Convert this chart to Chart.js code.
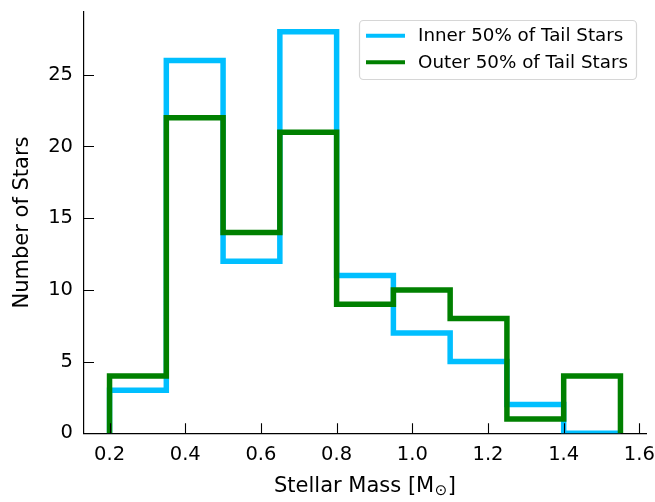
<!DOCTYPE html>
<html>
<head>
<meta charset="utf-8">
<script src="https://cdn.jsdelivr.net/npm/chart.js@4/dist/chart.umd.min.js"></script>
<style>
  html, body { margin: 0; padding: 0; background: #fff; }
  #wrap { width: 655px; height: 502px; }
</style>
</head>
<body>
<div id="wrap"><canvas id="hist" width="655" height="502"></canvas></div>
<script>
// ---- data -----------------------------------------------------------
const binEdges = [0.2, 0.35, 0.5, 0.65, 0.8, 0.95, 1.1, 1.25, 1.4, 1.55];
const innerCounts = [3, 26, 12, 28, 11, 7, 5, 2, 0];
const outerCounts = [4, 22, 14, 21, 9, 10, 8, 1, 4];
const xTicks = [0.2, 0.4, 0.6, 0.8, 1.0, 1.2, 1.4, 1.6];
const yTicks = [0, 5, 10, 15, 20, 25];
const seriesLabels = ["Inner 50% of Tail Stars", "Outer 50% of Tail Stars"];
const seriesColors = ["#00bfff", "#008000"];

const FONT = '"DejaVu Sans", sans-serif';
const TICK_FS = 19.5;  // tick labels
const LEGEND_FS = 18.3;
const TITLE_FS = 21;   // axis titles

// outline of a step histogram: up at the first edge, across each bin, down at the last edge
function stepOutline(counts) {
  const pts = [{ x: binEdges[0], y: 0 }];
  counts.forEach((c, i) => {
    pts.push({ x: binEdges[i], y: c });
    pts.push({ x: binEdges[i + 1], y: c });
  });
  pts.push({ x: binEdges[binEdges.length - 1], y: 0 });
  return pts;
}

// ---- inward ticks, axis titles and framed legend ---------------------
const decor = {
  id: "decor",
  afterDraw(chart) {
    const { ctx, chartArea: a, scales } = chart;
    ctx.save();
    ctx.strokeStyle = "#000";
    ctx.lineWidth = 1.1;
    ctx.beginPath();
    xTicks.forEach((v) => {
      const px = Math.round(scales.x.getPixelForValue(v)) + 0.5;
      ctx.moveTo(px, a.bottom);
      ctx.lineTo(px, a.bottom - 10);
    });
    yTicks.forEach((v) => {
      const py = Math.round(scales.y.getPixelForValue(v)) + 0.5;
      ctx.moveTo(a.left, py);
      ctx.lineTo(a.left + 10, py);
    });
    ctx.stroke();

    // x title with a subscript solar symbol
    ctx.fillStyle = "#000";
    ctx.textBaseline = "alphabetic";
    const big = TITLE_FS + "px " + FONT, small = Math.round(TITLE_FS * 0.7) + "px " + FONT;
    ctx.font = big;
    const partA = "Stellar Mass [M", partC = "]";
    const wA = ctx.measureText(partA).width;
    const wC = ctx.measureText(partC).width;
    ctx.font = small;
    const wB = ctx.measureText("\u2299").width;
    const total = wA + wB + wC + 1;
    const x0 = (a.left + a.right) / 2 - total / 2;
    const base = 492;
    ctx.font = big;
    ctx.textAlign = "left";
    ctx.fillText(partA, x0, base);
    ctx.font = small;
    ctx.fillText("\u2299", x0 + wA + 0.5, base + 3);
    ctx.font = big;
    ctx.fillText(partC, x0 + wA + wB + 1, base);

    // y title
    ctx.save();
    ctx.translate(23, (a.top + a.bottom) / 2);
    ctx.rotate(-Math.PI / 2);
    ctx.textAlign = "center";
    ctx.textBaseline = "middle";
    ctx.font = big;
    ctx.fillText("Number of Stars", 0, 0);
    ctx.restore();

    // legend box
    const bx = 359.5, by = 20.5, bw = 277, bh = 59;
    ctx.beginPath();
    ctx.roundRect(bx, by, bw, bh, 4);
    ctx.fillStyle = "rgba(255,255,255,0.8)";
    ctx.fill();
    ctx.strokeStyle = "#d6d6d6";
    ctx.lineWidth = 1.2;
    ctx.stroke();
    const rows = [35.7, 62.3];
    chart.data.datasets.forEach((ds, i) => {
      ctx.beginPath();
      ctx.strokeStyle = ds.borderColor;
      ctx.lineWidth = 4;
      ctx.moveTo(366, rows[i]);
      ctx.lineTo(405, rows[i]);
      ctx.stroke();
      ctx.fillStyle = "#000";
      ctx.font = LEGEND_FS + "px " + FONT;
      ctx.textAlign = "left";
      ctx.textBaseline = "middle";
      ctx.fillText(ds.label, 418, rows[i] + 1);
    });
    ctx.restore();
  },
};

// ---- chart ----------------------------------------------------------
new Chart(document.getElementById("hist"), {
  type: "line",
  data: {
    datasets: [
      {
        label: seriesLabels[0],
        data: stepOutline(innerCounts),
        borderColor: seriesColors[0],
        borderWidth: 5.5,
        borderJoinStyle: "miter",
        borderCapStyle: "butt",
        pointRadius: 0,
        fill: false,
        tension: 0,
        order: 1,
      },
      {
        label: seriesLabels[1],
        data: stepOutline(outerCounts),
        borderColor: seriesColors[1],
        borderWidth: 5.5,
        borderJoinStyle: "miter",
        borderCapStyle: "butt",
        pointRadius: 0,
        fill: false,
        tension: 0,
        order: 0,
      },
    ],
  },
  options: {
    responsive: false,
    animation: false,
    layout: { padding: { top: 11.7, right: 9, left: 0, bottom: 0 } },
    plugins: { legend: { display: false }, tooltip: { enabled: false } },
    scales: {
      x: {
        type: "linear",
        min: 0.1325,
        max: 1.6175,
        afterBuildTicks: (s) => { s.ticks = xTicks.map((v) => ({ value: v })); },
        afterFit: (s) => { s.height = 68.7; s.paddingLeft = 0; s.paddingRight = 0; },
        grid: { display: false, drawTicks: false },
        border: { display: true, color: "#000", width: 1.2 },
        ticks: {
          color: "#000",
          padding: 10,
          font: { family: FONT, size: TICK_FS },
          maxRotation: 0,
          callback: (v) => v.toFixed(1),
        },
      },
      y: {
        type: "linear",
        min: 0,
        max: 29.4,
        afterBuildTicks: (s) => { s.ticks = yTicks.map((v) => ({ value: v })); },
        afterFit: (s) => { s.width = 84; s.paddingTop = 0; s.paddingBottom = 0; },
        grid: { display: false, drawTicks: false },
        border: { display: true, color: "#000", width: 1.2 },
        ticks: {
          color: "#000",
          padding: 11,
          font: { family: FONT, size: TICK_FS },
          callback: (v) => String(v),
        },
      },
    },
  },
  plugins: [decor],
});
</script>
</body>
</html>
